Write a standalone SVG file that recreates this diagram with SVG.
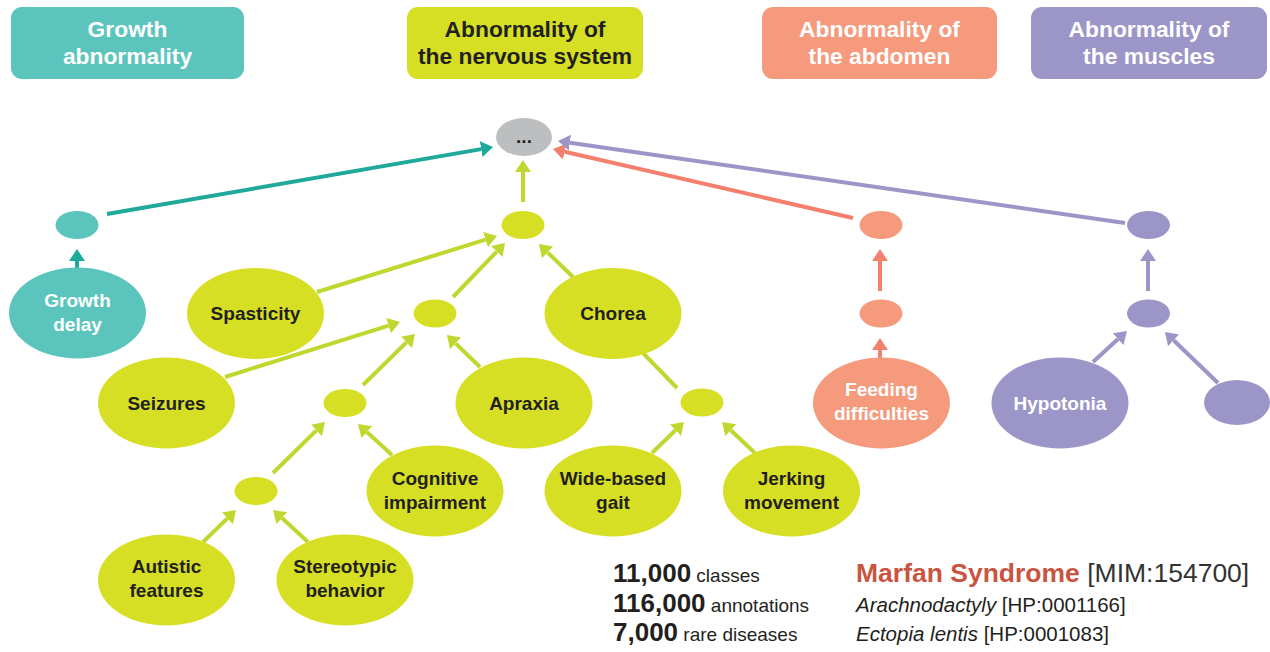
<svg xmlns="http://www.w3.org/2000/svg" width="1270" height="652" viewBox="0 0 1270 652">
<style>
text{font-family:"Liberation Sans",Arial,sans-serif}
.hd{font-size:22.8px;font-weight:bold;text-anchor:middle}
.lb{font-size:19px;font-weight:bold;text-anchor:middle}
.w{fill:#ffffff}
.d{fill:#231f20}
.teal{fill:#5bc5bd}
.yel{fill:#d6df23}
.sal{fill:#f59a7c}
.pur{fill:#9c95c8}
.gry{fill:#bcbec0}
.cn{fill:none;stroke-width:4;stroke-linecap:butt}
.ct{stroke:#1fa99a}
.cy{stroke:#c0d72f}
.cs{stroke:#f37f6c}
.cp{stroke:#9c95c8}
.num{font-size:26px;font-weight:bold;fill:#231f20}
.unit{font-size:19px;fill:#231f20}
.ex{font-size:20.5px;fill:#231f20}
</style>
<defs>
<marker id="aT" markerUnits="userSpaceOnUse" viewBox="0 0 12 16" markerWidth="12" markerHeight="16" refX="0" refY="8" orient="auto"><path d="M0,0 L12,8 L0,16 z" fill="#1fa99a"/></marker>
<marker id="aY" markerUnits="userSpaceOnUse" viewBox="0 0 12 16" markerWidth="12" markerHeight="16" refX="0" refY="8" orient="auto"><path d="M0,0 L12,8 L0,16 z" fill="#c0d72f"/></marker>
<marker id="aS" markerUnits="userSpaceOnUse" viewBox="0 0 12 16" markerWidth="12" markerHeight="16" refX="0" refY="8" orient="auto"><path d="M0,0 L12,8 L0,16 z" fill="#f37f6c"/></marker>
<marker id="aP" markerUnits="userSpaceOnUse" viewBox="0 0 12 16" markerWidth="12" markerHeight="16" refX="0" refY="8" orient="auto"><path d="M0,0 L12,8 L0,16 z" fill="#9c95c8"/></marker>
</defs>

<g id="headers">
<g id="h-growth"><rect x="11" y="7" width="233" height="72" rx="11" class="teal"/><text class="hd w" x="127.5" y="37">Growth</text><text class="hd w" x="127.5" y="64">abnormality</text></g>
<g id="h-nervous"><rect x="407" y="7" width="236" height="72" rx="11" class="yel"/><text class="hd d" x="525" y="37">Abnormality of</text><text class="hd d" x="525" y="64">the nervous system</text></g>
<g id="h-abdomen"><rect x="762" y="7" width="235" height="72" rx="11" class="sal"/><text class="hd w" x="879.5" y="37">Abnormality of</text><text class="hd w" x="879.5" y="64">the abdomen</text></g>
<g id="h-muscles"><rect x="1031" y="7" width="236" height="72" rx="11" class="pur"/><text class="hd w" x="1149" y="37">Abnormality of</text><text class="hd w" x="1149" y="64">the muscles</text></g>
</g>

<g id="connectors">
<line class="cn ct" x1="107" y1="214" x2="481.2" y2="149.1" marker-end="url(#aT)"/>
<line class="cn ct" x1="77" y1="268" x2="77" y2="261" marker-end="url(#aT)"/>
<line class="cn cy" x1="523" y1="202" x2="523" y2="172" marker-end="url(#aY)"/>
<line class="cn cy" x1="317" y1="292" x2="485.5" y2="239.6" marker-end="url(#aY)"/>
<line class="cn cy" x1="453" y1="297" x2="496.7" y2="251.6" marker-end="url(#aY)"/>
<line class="cn cy" x1="573" y1="277" x2="547.6" y2="252.4" marker-end="url(#aY)"/>
<line class="cn cy" x1="225" y1="377" x2="388.6" y2="325.6" marker-end="url(#aY)"/>
<line class="cn cy" x1="363" y1="385" x2="406.4" y2="342.4" marker-end="url(#aY)"/>
<line class="cn cy" x1="480" y1="367" x2="455.6" y2="343.4" marker-end="url(#aY)"/>
<line class="cn cy" x1="273" y1="473" x2="316.4" y2="430.4" marker-end="url(#aY)"/>
<line class="cn cy" x1="392" y1="455" x2="366.9" y2="432.1" marker-end="url(#aY)"/>
<line class="cn cy" x1="203" y1="542" x2="227.4" y2="518.4" marker-end="url(#aY)"/>
<line class="cn cy" x1="308" y1="542" x2="281.9" y2="518.1" marker-end="url(#aY)"/>
<line class="cn cy" x1="643" y1="353" x2="677" y2="388"/>
<line class="cn cy" x1="652" y1="453" x2="675.4" y2="430.3" marker-end="url(#aY)"/>
<line class="cn cy" x1="755" y1="453" x2="730.8" y2="430.2" marker-end="url(#aY)"/>
<line class="cn cs" x1="853" y1="218" x2="564.7" y2="151.7" marker-end="url(#aS)"/>
<line class="cn cs" x1="880" y1="291" x2="880" y2="261" marker-end="url(#aS)"/>
<line class="cn cs" x1="880" y1="358" x2="880" y2="350" marker-end="url(#aS)"/>
<line class="cn cp" x1="1125" y1="223" x2="569.9" y2="142.7" marker-end="url(#aP)"/>
<line class="cn cp" x1="1148" y1="291" x2="1148" y2="261" marker-end="url(#aP)"/>
<line class="cn cp" x1="1093" y1="362" x2="1118.1" y2="339.1" marker-end="url(#aP)"/>
<line class="cn cp" x1="1218" y1="383" x2="1173.6" y2="340.3" marker-end="url(#aP)"/>
</g>

<g id="n-root"><ellipse cx="524" cy="137" rx="28" ry="19" class="gry"/><text class="lb d" x="524" y="143">...</text></g>
<g id="n-growth-mid"><ellipse cx="77" cy="225" rx="21.5" ry="14" class="teal"/></g>
<g id="n-growth-delay"><ellipse cx="77.5" cy="313" rx="68.5" ry="45.5" class="teal"/><text class="lb w" x="77.5" y="307">Growth</text><text class="lb w" x="77.5" y="331">delay</text></g>
<g id="n-ns-1"><ellipse cx="523" cy="225" rx="21.5" ry="14" class="yel"/></g>
<g id="n-spasticity"><ellipse cx="255.5" cy="313.5" rx="68.5" ry="45.5" class="yel"/><text class="lb d" x="255.5" y="320">Spasticity</text></g>
<g id="n-ns-2"><ellipse cx="435" cy="313.5" rx="21.5" ry="14" class="yel"/></g>
<g id="n-chorea"><ellipse cx="613" cy="313.5" rx="68.5" ry="45.5" class="yel"/><text class="lb d" x="613" y="320">Chorea</text></g>
<g id="n-seizures"><ellipse cx="166.5" cy="403" rx="68.5" ry="45.5" class="yel"/><text class="lb d" x="166.5" y="410">Seizures</text></g>
<g id="n-ns-3"><ellipse cx="345" cy="403" rx="21.5" ry="14" class="yel"/></g>
<g id="n-apraxia"><ellipse cx="524" cy="403" rx="68.5" ry="45.5" class="yel"/><text class="lb d" x="524" y="410">Apraxia</text></g>
<g id="n-ns-4"><ellipse cx="702" cy="402.5" rx="21.5" ry="14" class="yel"/></g>
<g id="n-ns-5"><ellipse cx="256" cy="491" rx="21.5" ry="14" class="yel"/></g>
<g id="n-cognitive"><ellipse cx="435" cy="491" rx="68.5" ry="45.5" class="yel"/><text class="lb d" x="435" y="485">Cognitive</text><text class="lb d" x="435" y="509">impairment</text></g>
<g id="n-widebased"><ellipse cx="613" cy="491" rx="68.5" ry="45.5" class="yel"/><text class="lb d" x="613" y="485">Wide-based</text><text class="lb d" x="613" y="509">gait</text></g>
<g id="n-jerking"><ellipse cx="791.5" cy="491" rx="68.5" ry="45.5" class="yel"/><text class="lb d" x="791.5" y="485">Jerking</text><text class="lb d" x="791.5" y="509">movement</text></g>
<g id="n-autistic"><ellipse cx="166.5" cy="580" rx="68.5" ry="45.5" class="yel"/><text class="lb d" x="166.5" y="573">Autistic</text><text class="lb d" x="166.5" y="597">features</text></g>
<g id="n-stereotypic"><ellipse cx="345" cy="580" rx="68.5" ry="45.5" class="yel"/><text class="lb d" x="345" y="573">Stereotypic</text><text class="lb d" x="345" y="597">behavior</text></g>
<g id="n-abd-1"><ellipse cx="881" cy="225" rx="21.5" ry="14" class="sal"/></g>
<g id="n-abd-2"><ellipse cx="881" cy="313.5" rx="21.5" ry="14" class="sal"/></g>
<g id="n-feeding"><ellipse cx="881.5" cy="403" rx="68.5" ry="45.5" class="sal"/><text class="lb w" x="881.5" y="396">Feeding</text><text class="lb w" x="881.5" y="420">difficulties</text></g>
<g id="n-mus-1"><ellipse cx="1148.5" cy="225" rx="21.5" ry="14" class="pur"/></g>
<g id="n-mus-2"><ellipse cx="1148.5" cy="313.5" rx="21.5" ry="14" class="pur"/></g>
<g id="n-hypotonia"><ellipse cx="1060" cy="403" rx="68.5" ry="45.5" class="pur"/><text class="lb w" x="1060" y="410">Hypotonia</text></g>
<g id="n-mus-3"><ellipse cx="1237" cy="402.5" rx="33" ry="22.5" class="pur"/></g>

<g id="stats">
<text x="613" y="582"><tspan class="num">11,000</tspan><tspan class="unit"> classes</tspan></text>
<text x="613" y="612"><tspan class="num">116,000</tspan><tspan class="unit"> annotations</tspan></text>
<text x="613" y="641"><tspan class="num">7,000</tspan><tspan class="unit"> rare diseases</tspan></text>
</g>
<g id="example">
<text x="856" y="582" style="font-size:26.5px"><tspan font-weight="bold" fill="#c9543f">Marfan Syndrome</tspan><tspan fill="#333333"> [MIM:154700]</tspan></text>
<text x="856" y="612" class="ex"><tspan font-style="italic">Arachnodactyly</tspan> [HP:0001166]</text>
<text x="856" y="641" class="ex"><tspan font-style="italic">Ectopia lentis</tspan> [HP:0001083]</text>
</g>
</svg>
